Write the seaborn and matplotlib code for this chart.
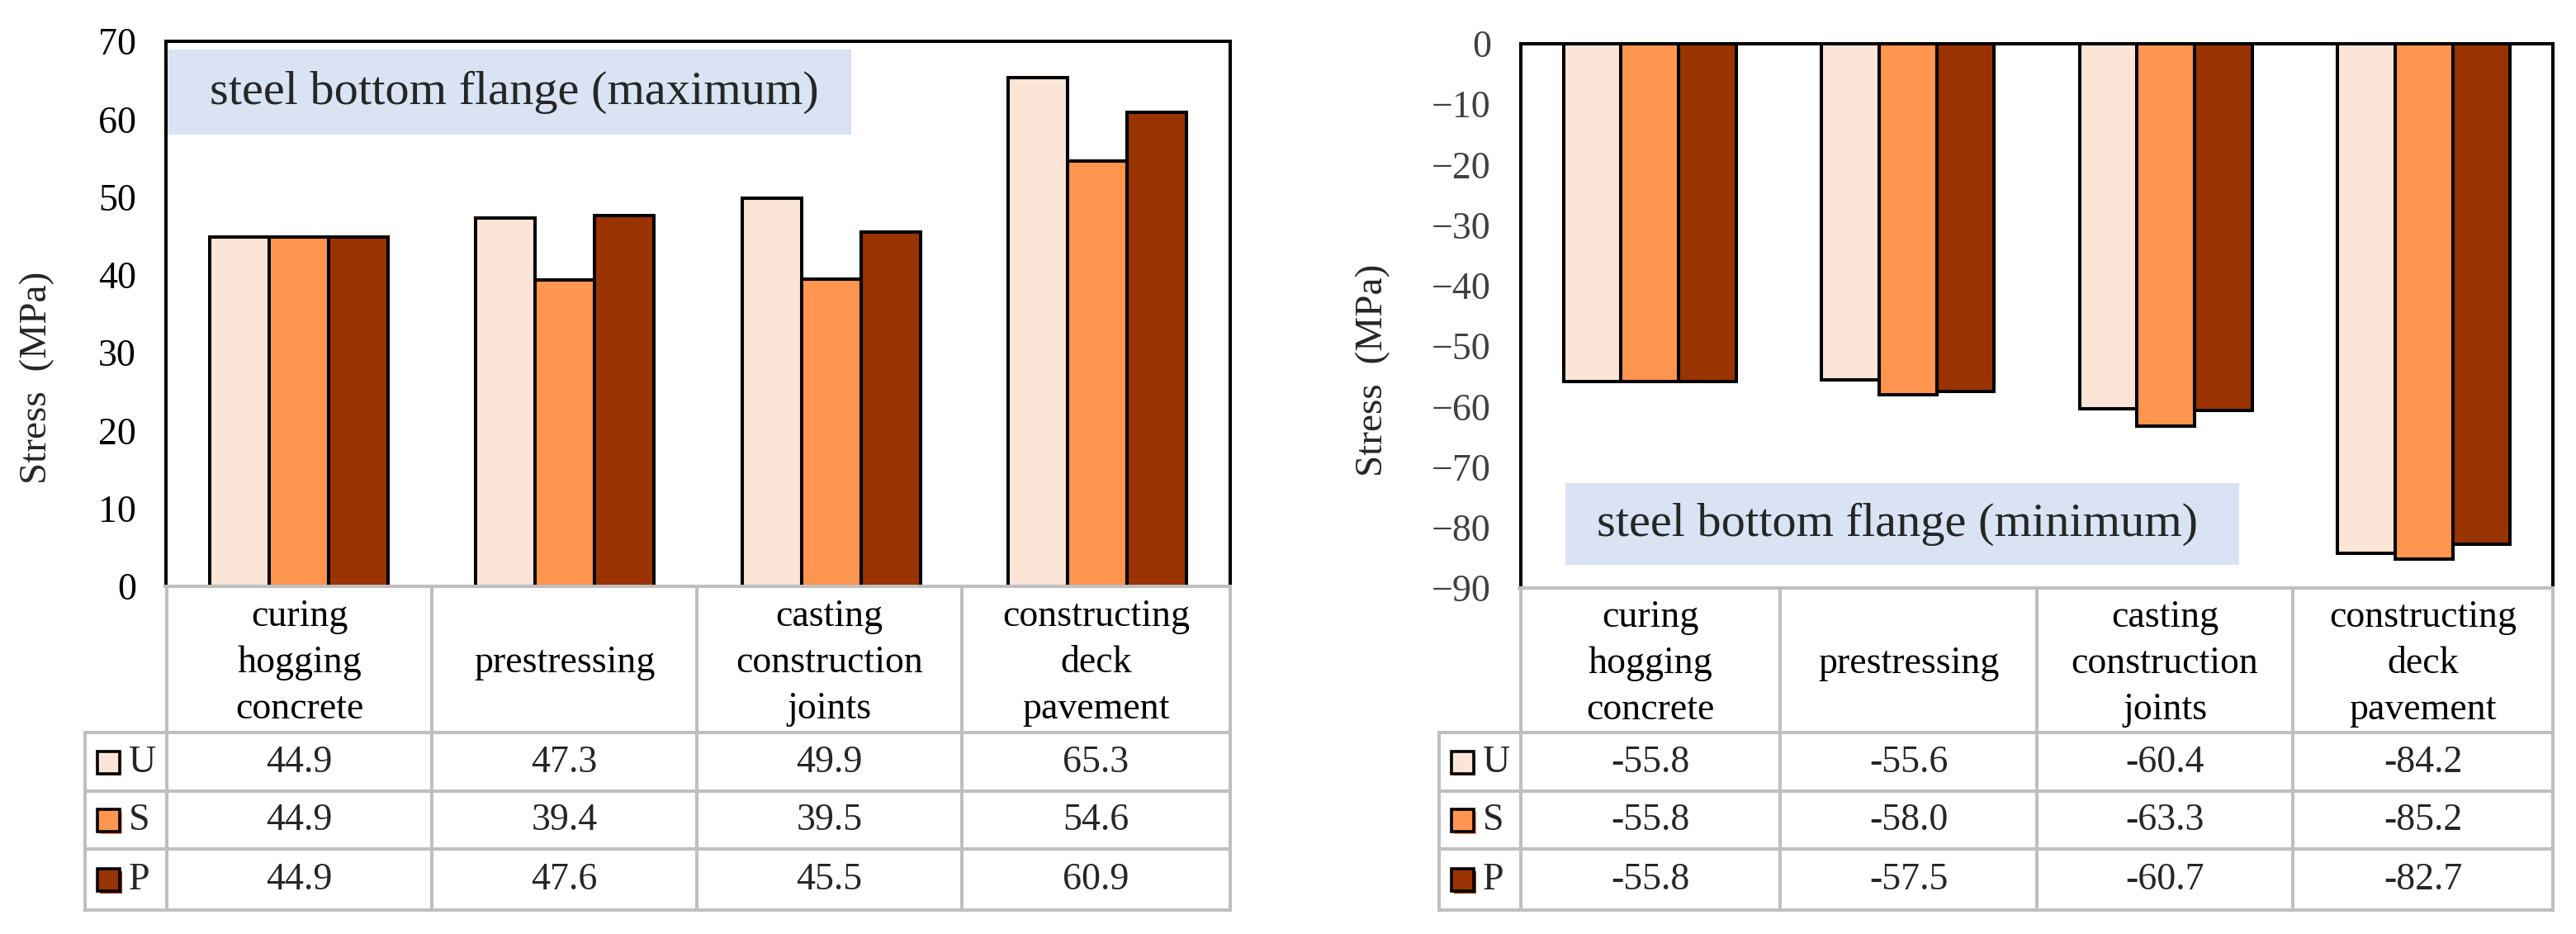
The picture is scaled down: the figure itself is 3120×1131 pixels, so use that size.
import numpy as np
import pandas as pd
import matplotlib
matplotlib.use("Agg")
import matplotlib.pyplot as plt
import seaborn as sns
from matplotlib.patches import Rectangle

# ---------------- data ----------------
stages = ["curing\nhogging\nconcrete", "prestressing",
          "casting\nconstruction\njoints", "constructing\ndeck\npavement"]
series = ["U", "S", "P"]
max_U = [44.9, 47.3, 49.9, 65.3]
max_S = [44.9, 39.4, 39.5, 54.6]
max_P = [44.9, 47.6, 45.5, 60.9]
min_U = [-55.8, -55.6, -60.4, -84.2]
min_S = [-55.8, -58.0, -63.3, -85.2]
min_P = [-55.8, -57.5, -60.7, -82.7]
left_ticks = [0, 10, 20, 30, 40, 50, 60, 70]
right_ticks = [0, -10, -20, -30, -40, -50, -60, -70, -80, -90]
left_title = "steel bottom flange (maximum)"
right_title = "steel bottom flange (minimum)"
ylabel = "Stress  (MPa)"
colors = ["#FBE5D6", "#FF954F", "#993300"]

sns.set_style("white")
plt.rcParams["font.family"] = ["Liberation Serif", "DejaVu Serif"]

W, H = 3120, 1131
fig = plt.figure(figsize=(W / 100, H / 100), dpi=100)


def long_df(u, s, p):
    rows = []
    for name, vals in zip(series, [u, s, p]):
        for st, v in zip(stages, vals):
            rows.append({"stage": st, "series": name, "value": v})
    return pd.DataFrame(rows)


def px_axes(x0, y0, x1, y1):
    return fig.add_axes([x0 / W, 1 - y1 / H, (x1 - x0) / W, (y1 - y0) / H])


def make_panel(ax, df, ylim, ticks, tick_color):
    sns.barplot(data=df, x="stage", y="value", hue="series", hue_order=series,
                order=stages, palette=colors, saturation=1, width=0.67,
                edgecolor="black", linewidth=2.9, ax=ax, legend=False,
                errorbar=None)
    ax.set_xlim(-0.5, 3.5)
    ax.set_ylim(*ylim)
    ax.set_yticks(ticks)
    ax.set_xticks([])
    ax.set_xlabel("")
    ax.set_ylabel("")
    ax.tick_params(axis="y", length=0, pad=26, labelsize=33, labelcolor=tick_color)
    for lab in ax.get_yticklabels():
        lab.set_family(["Liberation Serif", "DejaVu Serif"])
    for side in ["left", "right", "top"]:
        ax.spines[side].set_visible(True)
        ax.spines[side].set_color("black")
        ax.spines[side].set_linewidth(2.9)
    ax.spines["bottom"].set_visible(False)


axL = px_axes(201, 50, 1490, 710)
make_panel(axL, long_df(max_U, max_S, max_P), (0, 70), left_ticks, "black")
axR = px_axes(1842, 53, 3092, 712)
make_panel(axR, long_df(min_U, min_S, min_P), (-90, 0), right_ticks, "#404040")

# ---------------- overlay for tables / labels ----------------
ov = fig.add_axes([0, 0, 1, 1])
ov.set_xlim(0, W)
ov.set_ylim(H, 0)
ov.axis("off")

GRAY = "#BFBFBF"


def draw_table(col_edges, leg_left, top, row_edges, values):
    right = col_edges[-1]
    lw = 2.9
    ov.plot([col_edges[0] - 2, right], [top, top], color=GRAY, lw=lw, solid_capstyle="projecting")
    for y in row_edges:
        ov.plot([leg_left, right], [y, y], color=GRAY, lw=lw, solid_capstyle="projecting")
    for x in col_edges:
        ov.plot([x, x], [top, row_edges[-1]], color=GRAY, lw=lw, solid_capstyle="projecting")
    ov.plot([leg_left, leg_left], [row_edges[0], row_edges[-1]], color=GRAY, lw=lw,
            solid_capstyle="projecting")
    hy = (top + row_edges[0]) / 2
    for i, st in enumerate(stages):
        cx = (col_edges[i] + col_edges[i + 1]) / 2
        ov.text(cx, hy + 4, st, ha="center", va="center", fontsize=33,
                linespacing=1.42, color="black")
    for r, (name, vals) in enumerate(zip(series, values)):
        cy = (row_edges[r] + row_edges[r + 1]) / 2
        sx = leg_left + 15
        ov.add_patch(Rectangle((sx + 3, cy - 13 + 3), 27, 27, fc=colors[r], ec="none"))
        ov.add_patch(Rectangle((sx, cy - 13), 27, 27, fc=colors[r], ec="black", lw=2.6))
        ov.text(sx + 38, cy + 1, name, ha="left", va="center", fontsize=33)
        for i, v in enumerate(vals):
            cx = (col_edges[i] + col_edges[i + 1]) / 2
            ov.text(cx, cy + 1, f"{v:.1f}", ha="center", va="center", fontsize=33)


draw_table([202, 523, 844, 1165, 1490], 103, 710, [887, 958, 1028, 1102],
           [max_U, max_S, max_P])
draw_table([1842, 2156, 2467, 2777, 3092], 1743, 712, [887, 958, 1028, 1102],
           [min_U, min_S, min_P])

# title boxes
ov.add_patch(Rectangle((203, 60), 828, 103, fc="#DAE3F3", ec="none"))
ov.text(254, 112, left_title, ha="left", va="center", fontsize=42)
ov.add_patch(Rectangle((1896, 585), 816, 99, fc="#DAE3F3", ec="none"))
ov.text(1934, 635, right_title, ha="left", va="center", fontsize=42)

# y labels
ov.text(45, 457, ylabel, rotation=90, ha="center", va="center", fontsize=34)
ov.text(1663, 448, ylabel, rotation=90, ha="center", va="center", fontsize=34)

fig.savefig("out.png", dpi=100)
